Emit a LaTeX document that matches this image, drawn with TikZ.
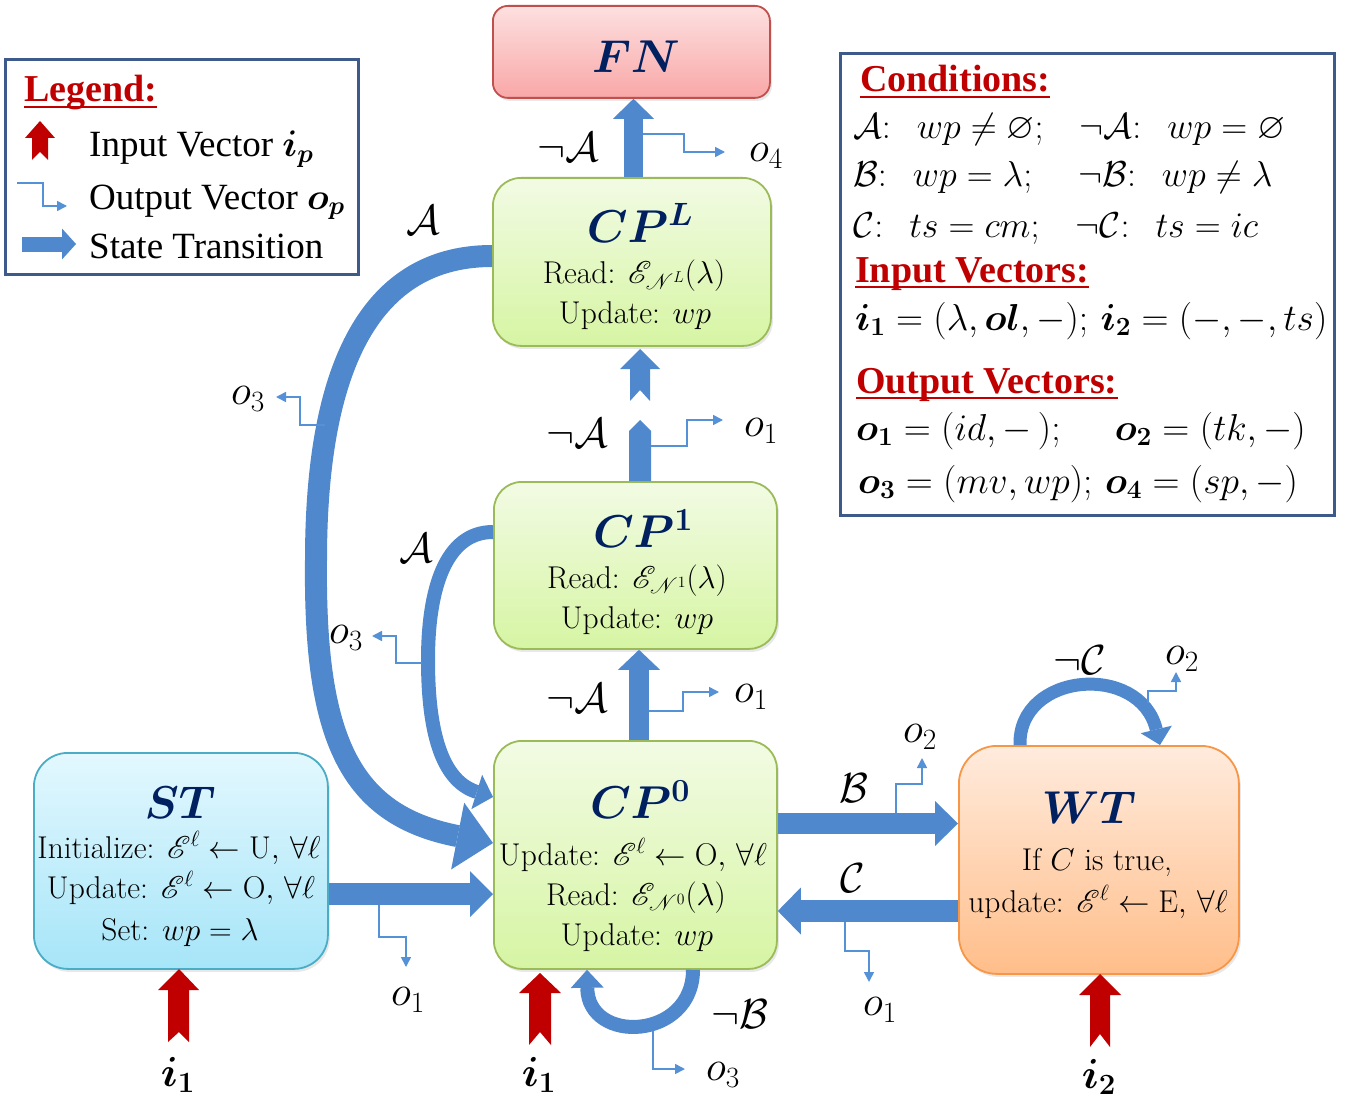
\RequirePackage{fix-cm}
\documentclass[tikz,border=0pt]{standalone}
\usepackage{amsmath,amssymb,mathrsfs}
\DeclareFontFamily{U}{rsfs}{\skewchar\font127 }
\DeclareFontShape{U}{rsfs}{m}{n}{<-6> rsfs5 <6-8> rsfs7 <8-> rsfs10}{}
\usepackage{fontspec}
\newfontfamily\timesf{Liberation Serif}
\usetikzlibrary{arrows.meta,shadows}
\definecolor{ablue}{RGB}{79,136,205}
\definecolor{adark}{RGB}{68,114,172}
\definecolor{oblue}{RGB}{85,145,215}
\definecolor{navy}{RGB}{0,32,96}
\definecolor{ired}{RGB}{192,0,0}
\definecolor{bframe}{RGB}{62,90,138}
\definecolor{cpframe}{RGB}{155,187,89}
\definecolor{cptop}{RGB}{242,251,228}
\definecolor{cpbot}{RGB}{214,245,163}
\definecolor{fnframe}{RGB}{192,80,77}
\definecolor{fntop}{RGB}{253,224,224}
\definecolor{fnbot}{RGB}{249,167,167}
\definecolor{stframe}{RGB}{75,172,198}
\definecolor{sttop}{RGB}{227,248,254}
\definecolor{stbot}{RGB}{166,229,248}
\definecolor{wtframe}{RGB}{247,150,70}
\definecolor{wttop}{RGB}{255,235,221}
\definecolor{wtbot}{RGB}{255,190,138}
\begin{document}
\begin{tikzpicture}[x=1pt,y=-1pt,
  every node/.style={inner sep=0pt},
  box/.style={draw, line width=1.8pt, anchor=north west, inner sep=0pt,
    drop shadow={opacity=0.18, shadow xshift=2pt, shadow yshift=-3pt}},
  cpbox/.style={box, draw=cpframe, top color=cptop, bottom color=cpbot, rounded corners=28pt},
  fnbox/.style={box, draw=fnframe, top color=fntop, bottom color=fnbot, rounded corners=15pt},
  stbox/.style={box, draw=stframe, top color=sttop, bottom color=stbot, rounded corners=34pt},
  wtbox/.style={box, draw=wtframe, top color=wttop, bottom color=wtbot, rounded corners=38pt},
  ttl/.style={anchor=base, text=navy, font=\fontsize{46}{46}\selectfont},
  body/.style={anchor=base, font=\fontsize{31.5}{34}\selectfont},
  lbl/.style={font=\fontsize{42}{42}\selectfont},
  blk/.style={draw=ablue},
  outp/.style={draw=oblue, line width=1.6pt, -{Triangle[length=10pt,width=10pt]}},
  inred/.style={fill=ired},
  hdr/.style={anchor=base west, text=ired, font=\timesf\bfseries\fontsize{38}{38}\selectfont},
  leg/.style={anchor=base west, font=\timesf\fontsize{37}{37}\selectfont},
  cond/.style={anchor=base west, font=\fontsize{36}{36}\selectfont},
  vec/.style={anchor=base west, font=\fontsize{37.5}{38}\selectfont},
  frame/.style={draw=bframe, line width=3pt, anchor=north west}
]
\useasboundingbox (0,0) rectangle (1346,1102);
\fill[white] (0,0) rectangle (1346,1102);

% ---------- legend ----------
\node[frame, minimum width=353pt, minimum height=215pt] (legend) at (4,58) {};
\node[hdr] (lgt) at (24,102) {Legend:};
\draw[ired, line width=2.5pt] ([yshift=-5pt]lgt.base west) -- ([yshift=-5pt]lgt.base east);
\fill[inred] (40,121) -- (55,138) -- (48,138) -- (48,160) -- (40,152) -- (32,160) -- (32,138) -- (25,138) -- cycle;
\node[leg] (lg1) at (89,157) {Input Vector $\boldsymbol{i_p}$};
\coordinate (lgo) at (17,183);
\draw[outp] (lgo) -- (43,183) -- (43,206) -- (67,206);
\node[leg] (lg2) at (89,209) {Output Vector $\boldsymbol{o_p}$};
\coordinate (lgs) at (22,244);
\draw[blk, line width=15pt, -{Triangle[length=14pt,width=31pt,line width=0pt]}] (lgs) -- (76,244);
\node[leg] (lg3) at (89,258) {State Transition};

% ---------- conditions ----------
\node[frame, minimum width=494pt, minimum height=462pt] (conds) at (839,52) {};
\node[hdr] (cdt) at (860,92) {Conditions:};
\draw[ired, line width=2.5pt] ([yshift=-5pt]cdt.base west) -- ([yshift=-5pt]cdt.base east);
\node[cond] (c1) at (853,139) {$\mathcal{A}{:}\;\;\, wp\neq\varnothing;\;\;\;\neg\mathcal{A}{:}\;\;\, wp=\varnothing$};
\node[cond] (c2) at (853,187) {$\mathcal{B}{:}\;\;\, wp=\lambda;\;\;\;\;\neg\mathcal{B}{:}\;\;\, wp\neq\lambda$};
\node[cond] (c3) at (853,237) {$\mathcal{C}{:}\;\;\, ts=cm;\;\;\;\neg\mathcal{C}{:}\;\;\, ts=ic$};
\node[hdr] (ivt) at (855,282) {Input Vectors:};
\draw[ired, line width=2.5pt] ([yshift=-5pt]ivt.base west) -- ([yshift=-5pt]ivt.base east);
\node[vec] (iv) at (855,330) {$\boldsymbol{i_1}=(\lambda,\boldsymbol{ol},-);\,\boldsymbol{i_2}=(-,-,ts)$};
\node[hdr] (ovt) at (856,393) {Output Vectors:};
\draw[ired, line width=2.5pt] ([yshift=-5pt]ovt.base west) -- ([yshift=-5pt]ovt.base east);
\node[vec] (ov1) at (856,440) {$\boldsymbol{o_1}=(id,-\,);\quad\;\boldsymbol{o_2}=(tk,-)$};
\node[vec] (ov2) at (858,493) {$\boldsymbol{o_3}=(mv,wp);\,\boldsymbol{o_4}=(sp,-)$};

% ---------- state boxes ----------
\node[fnbox, minimum width=277pt, minimum height=92pt] (FN) at (492,5) {};
\node[ttl] (FNt) at (636,73) {$\boldsymbol{FN}$};

\node[cpbox, minimum width=278pt, minimum height=168pt] (CPL) at (492,177) {};
\node[ttl] (CPLt) at (640,242) {$\boldsymbol{CP^{L}}$};
\node[body] (CPLa) at (634,283) {Read: $\mathscr{E}_{\mathscr{N}^{L}}(\lambda)$};
\node[body] (CPLb) at (635,323) {Update: $wp$};

\node[cpbox, minimum width=283pt, minimum height=167pt] (CP1) at (493,481) {};
\node[ttl] (CP1t) at (643,547) {$\boldsymbol{CP^{1}}$};
\node[body] (CP1a) at (637,588) {Read: $\mathscr{E}_{\mathscr{N}^{1}}(\lambda)$};
\node[body] (CP1b) at (637,628) {Update: $wp$};

\node[cpbox, minimum width=283pt, minimum height=228pt] (CP0) at (493,740) {};
\node[ttl] (CP0t) at (640,818) {$\boldsymbol{CP^{0}}$};
\node[body] (CP0a) at (633,865) {Update: $\mathscr{E}^{\ell}\leftarrow\mathrm{O},\,\forall\ell$};
\node[body] (CP0b) at (636,905) {Read: $\mathscr{E}_{\mathscr{N}^{0}}(\lambda)$};
\node[body] (CP0c) at (637,945) {Update: $wp$};

\node[stbox, minimum width=294pt, minimum height=216pt] (ST) at (33,752) {};
\node[ttl] (STt) at (180,818) {$\boldsymbol{ST}$};
\node[body] (STa) at (179,858) {Initialize: $\mathscr{E}^{\ell}\leftarrow\mathrm{U},\,\forall\ell$};
\node[body] (STb) at (181,898) {Update: $\mathscr{E}^{\ell}\leftarrow\mathrm{O},\,\forall\ell$};
\node[body] (STc) at (180,940) {Set: $wp=\lambda$};

\node[wtbox, minimum width=280pt, minimum height=228pt] (WT) at (958,745) {};
\node[ttl] (WTt) at (1089,823) {$\boldsymbol{WT}$};
\node[body] (WTa) at (1097,870) {If $C$ is true,};
\node[body] (WTb) at (1098,912) {update: $\mathscr{E}^{\ell}\leftarrow\mathrm{E},\,\forall\ell$};

% ---------- transitions ----------
% CP^L -> FN
\draw[blk, line width=19pt, -{Triangle[length=20pt,width=41pt,line width=0pt]}] (633.5,0 |- CPL.north) -- (633.5,0 |- FN.south);
\node[lbl] (l1) at (568,147) {$\neg\mathcal{A}$};
\draw[outp] (643,134) -- (684,134) -- (684,152) -- (725,152);
\node[lbl] (o4) at (766,156) {$o_4$};

% CP^1 -> CP^L (broken)
\fill[ablue] (629,481) -- (629,431) -- (640,420) -- (651,431) -- (651,481) -- cycle;
\fill[ablue] (630,401) -- (640,390) -- (650,401) -- (650,369) -- (660,369) -- (640,349) -- (620,369) -- (630,369) -- cycle;
\node[lbl] (l2) at (577,433) {$\neg\mathcal{A}$};
\draw[outp] (651,446) -- (687,446) -- (687,420) -- (723,420);
\node[lbl] (o1a) at (761,431) {$o_1$};

% CP^0 -> CP^1
\draw[blk, line width=20pt, -{Triangle[length=20pt,width=42pt,line width=0pt]}] (639,0 |- CP0.north) -- (639,0 |- CP1.south);
\node[lbl] (l3) at (577,698) {$\neg\mathcal{A}$};
\draw[outp] (649,711) -- (683,711) -- (683,692) -- (719,692);
\node[lbl] (o1b) at (751,697) {$o_1$};

% CP^L -> CP^0 (A)
\draw[blk, line width=22pt, -{Triangle[length=36pt,width=68pt,line width=0pt]}]
  (CPL.west |- 0,256) .. controls (380,256) and (316,350) .. (316,560)
  .. controls (314,740) and (350,815) .. (CP0.west |- 0,843);
\node[lbl] (l4) at (423,220) {$\mathcal{A}$};
\draw[outp] (325,425) -- (300,425) -- (300,397) -- (276,397);
\node[lbl] (o3a) at (248,399) {$o_3$};

% CP^1 -> CP^0 (A)
\draw[blk, line width=14pt, -{Triangle[length=17pt,width=36pt,line width=0pt]}]
  (CP1.west |- 0,532) .. controls (445,532) and (428,590) .. (428,660)
  .. controls (428,740) and (445,782) .. (CP0.west |- 0,797);
\node[lbl] (l5) at (416,548) {$\mathcal{A}$};
\draw[outp] (422,663) -- (396,663) -- (396,636) -- (372,636);
\node[lbl] (o3b) at (346,638) {$o_3$};

% ST -> CP^0
\draw[blk, line width=22pt, -{Triangle[length=23pt,width=46pt,line width=0pt]}] (ST.east |- 0,894) -- (CP0.west |- 0,894);
\draw[outp] (379,905) -- (379,937) -- (406,937) -- (406,967);
\node[lbl] (o1c) at (408,1000) {$o_1$};

% CP^0 -> WT (B)
\draw[blk, line width=21pt, -{Triangle[length=23pt,width=45pt,line width=0pt]}] (CP0.east |- 0,823.5) -- (WT.west |- 0,823.5);
\node[lbl] (l6) at (854,788) {$\mathcal{B}$};
\draw[outp] (896,813) -- (896,784) -- (922,784) -- (922,758);
\node[lbl] (o2a) at (920,737) {$o_2$};

% WT -> CP^0 (C)
\draw[blk, line width=22pt, -{Triangle[length=23pt,width=47pt,line width=0pt]}] (WT.west |- 0,911) -- (CP0.east |- 0,911);
\node[lbl] (l7) at (853,878) {$\mathcal{C}$};
\draw[outp] (845,922) -- (845,951) -- (869,951) -- (869,982);
\node[lbl] (o1d) at (880,1010) {$o_1$};

% WT self loop
\draw[blk, line width=13pt, -{Triangle[length=16pt,width=32pt,line width=0pt]}]
  (1020,0 |- WT.north) .. controls (1018,672) and (1140,662) .. (1160,0 |- WT.north);
\node[lbl] (l8) at (1080,660) {$\neg\mathcal{C}$};
\draw[outp] (1148,703) -- (1148,691) -- (1176,691) -- (1176,672);
\node[lbl] (o2b) at (1182,659) {$o_2$};

% CP^0 self loop
\draw[blk, line width=14pt, -{Triangle[length=18pt,width=33pt,line width=0pt]}]
  (693,0 |- CP0.south) .. controls (693,1040) and (588,1045) .. (587,0 |- CP0.south);
\node[lbl] (l9) at (740,1014) {$\neg\mathcal{B}$};
\draw[outp] (653,1031) -- (653,1069) -- (685,1069);
\node[lbl] (o3c) at (723,1075) {$o_3$};

% ---------- inputs ----------
\fill[inred] (179,969) -- (199,990) -- (189,990) -- (189,1042) -- (179,1032) -- (168,1042) -- (168,990) -- (158,990) -- cycle;
\node[lbl] (in1) at (178,1075) {$\boldsymbol{i_1}$};
\fill[inred] (540,973) -- (561,993) -- (551,993) -- (551,1045) -- (540,1032) -- (529,1045) -- (529,993) -- (519,993) -- cycle;
\node[lbl] (in2) at (539,1075) {$\boldsymbol{i_1}$};
\fill[inred] (1100,974) -- (1121,995) -- (1110,995) -- (1110,1047) -- (1100,1034) -- (1090,1047) -- (1090,995) -- (1079,995) -- cycle;
\node[lbl] (in3) at (1099,1077) {$\boldsymbol{i_2}$};
\end{tikzpicture}
\end{document}
